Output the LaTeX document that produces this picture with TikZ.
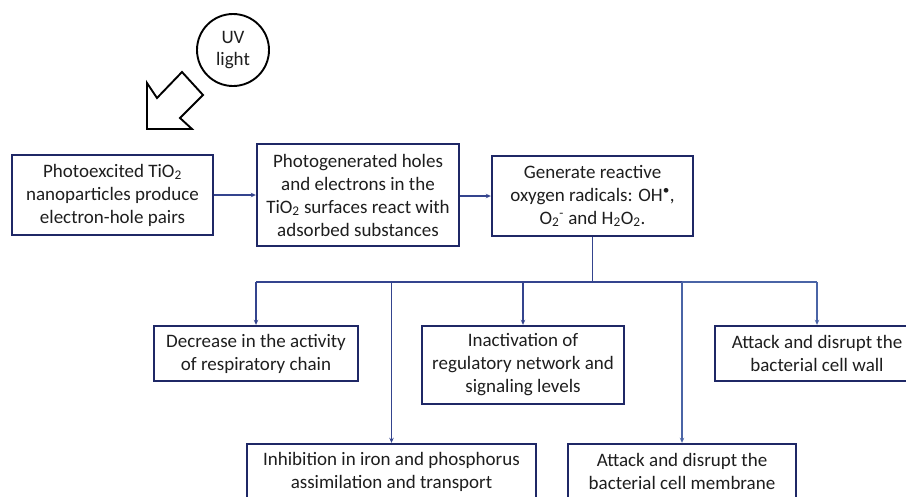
\documentclass[tikz,border=0pt]{standalone}
\usepackage{fontspec}
\setmainfont{Carlito}
\usetikzlibrary{arrows.meta}
\definecolor{boxc}{HTML}{1F2866}
\definecolor{linec}{HTML}{34448E}
\definecolor{linel}{HTML}{4A64A6}
\definecolor{txt}{HTML}{1E1E1E}
\begin{document}
\begin{tikzpicture}[x=1pt,y=-1pt,
  box/.style={draw=boxc,line width=2.4pt,fill=white,text=txt,align=center,
    inner sep=0pt,font=\fontsize{19}{23}\selectfont},
  conn/.style={draw=linec,line width=1.2pt},
  tip/.style={-{Stealth[length=5pt,width=4.5pt]}}]
\useasboundingbox (0,0) rectangle (906,496);
\clip (0,0) rectangle (906,496);
\fill[white] (0,0) rectangle (906,496);
% UV light
\node[draw=black,line width=1.9pt,circle,minimum size=72pt,inner sep=0pt,
  align=center,text=txt,font=\fontsize{19}{22}\selectfont] (uv) at (233,50) {UV\\light};
\draw[line width=1.9pt,fill=white,line join=miter]
  (147,129) -- (147,83) -- (157,98) -- (182,72) -- (203,95) -- (180,118) -- (192,129) -- cycle;
% top row
\node[box,minimum width=201pt,minimum height=80pt] (b1) at (112.5,195)
  {Photoexcited TiO\textsubscript{2}\\nanoparticles produce\\electron-hole pairs};
\node[box,minimum width=202pt,minimum height=102pt] (b2) at (358,195)
  {Photogenerated holes\\and electrons in the\\TiO\textsubscript{2} surfaces react with\\adsorbed substances};
\node[box,minimum width=201pt,minimum height=80pt] (b3) at (592.5,196)
  {Generate reactive\\oxygen radicals: OH\textsuperscript{\textbullet},\\O\textsubscript{2}\textsuperscript{-} and H\textsubscript{2}O\textsubscript{2}.};
% lower boxes
\node[box,minimum width=204pt,minimum height=55pt] (d) at (256,353.5)
  {Decrease in the activity\\of respiratory chain};
\node[box,minimum width=202pt,minimum height=78pt] (i) at (523,365)
  {Inactivation of\\regulatory network and\\signaling levels};
\node[box,minimum width=204pt,minimum height=55pt] (w) at (817,353.5)
  {Attack and disrupt the\\bacterial cell wall};
\node[box,minimum width=289pt,minimum height=55pt] (h) at (391.5,471.5)
  {Inhibition in iron and phosphorus\\assimilation and transport};
\node[box,minimum width=228pt,minimum height=55pt] (m) at (682,471.5)
  {Attack and disrupt the\\bacterial cell membrane};
% connectors
\draw[conn,tip] (b1.east) -- (b2.west |- b1.east);
\draw[conn,tip] (b2.east |- b3.west) -- (b3.west);
\coordinate (bus) at (593,282);
\coordinate (busL) at (256,282);
\coordinate (busM) at (682,282);
\coordinate (busR) at (817,282);
\draw[conn] (b3.south) -- (b3.south |- bus);
\draw[conn] (busL) -- (busM);
\draw[conn,draw=linel] (busM) -- (busR);
\draw[conn,tip] (d.north |- bus) -- (d.north);
\draw[conn,tip] (h.north |- bus) -- (h.north);
\draw[conn,tip] (i.north |- bus) -- (i.north);
\draw[conn,tip,draw=linel] (m.north |- bus) -- (m.north);
\draw[conn,tip,draw=linel] (w.north |- bus) -- (w.north);
\end{tikzpicture}
\end{document}
